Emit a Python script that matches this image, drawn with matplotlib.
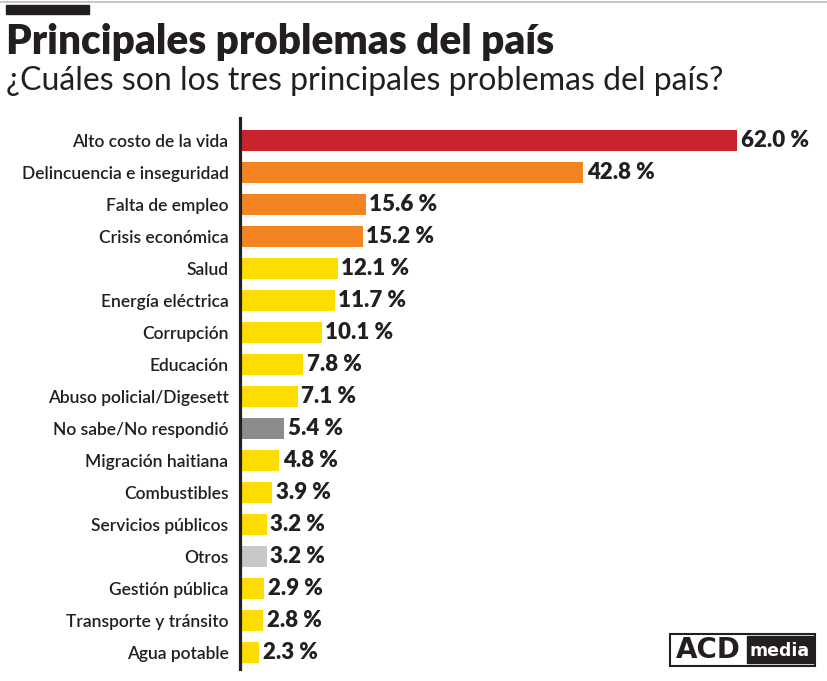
import matplotlib.pyplot as plt
from matplotlib.patches import Rectangle
from matplotlib.lines import Line2D

categories = ["Alto costo de la vida", "Delincuencia e inseguridad", "Falta de empleo",
              "Crisis económica", "Salud", "Energía eléctrica", "Corrupción", "Educación",
              "Abuso policial/Digesett", "No sabe/No respondió", "Migración haitiana",
              "Combustibles", "Servicios públicos", "Otros", "Gestión pública",
              "Transporte y tránsito", "Agua potable"]
values = [62.0, 42.8, 15.6, 15.2, 12.1, 11.7, 10.1, 7.8, 7.1, 5.4, 4.8, 3.9, 3.2, 3.2, 2.9, 2.8, 2.3]
colors = ["#C9232D", "#F48323", "#F48323", "#F48323"] + ["#FFDD00"] * 5 + ["#8C8C8F"] + \
         ["#FFDD00"] * 3 + ["#C8C8C8"] + ["#FFDD00"] * 3

W, H = 828, 681
TXT = "#231F20"
plt.rcParams['font.family'] = ['Lato', 'DejaVu Sans']

fig = plt.figure(figsize=(W / 100, H / 100), dpi=100)

def fx(x):
    return x / W

def fy(y):
    return 1 - y / H

# top rule and black tab
fig.add_artist(Line2D([0, 1], [fy(1.5), fy(1.5)], color="#BBBBBB", lw=1.2, transform=fig.transFigure))
fig.add_artist(Rectangle((fx(6), fy(14)), 83 / W, 9 / H, color=TXT, transform=fig.transFigure))

fig.text(fx(6), fy(42), "Principales problemas del país", fontsize=29.2, fontweight="heavy",
         color=TXT, va="center", ha="left")
fig.text(fx(6), fy(81), "¿Cuáles son los tres principales problemas del país?", fontsize=23,
         color=TXT, va="center", ha="left")

ax = fig.add_axes([fx(241), fy(669), (W - 241) / W, (669 - 118) / H])
ypos = list(range(len(categories)))
ax.barh(ypos, values, height=0.66, color=colors)
ax.set_xlim(0, (W - 241) / 8.0)
ax.set_ylim(16.52, -0.70)
for s in ["top", "right", "bottom"]:
    ax.spines[s].set_visible(False)
ax.spines["left"].set_linewidth(2.3)
ax.spines["left"].set_color(TXT)
ax.spines["left"].set_position(("outward", 1.0))
ax.set_xticks([])
ax.set_yticks(ypos)
ax.set_yticklabels(categories, fontsize=12.5, fontweight="semibold", color=TXT)
ax.tick_params(axis="y", length=0, pad=8)
for y, v in zip(ypos, values):
    ax.text(v + 0.45, y, f"{v:.1f} %", va="center", ha="left", fontsize=16,
            fontweight="heavy", color=TXT)

# logo
fig.add_artist(Rectangle((fx(670), fy(666)), 145 / W, 32 / H, facecolor="white",
                         edgecolor=TXT, lw=1.5, transform=fig.transFigure))
fig.add_artist(Rectangle((fx(747), fy(663)), 66 / W, 27 / H, color=TXT, transform=fig.transFigure))
fig.text(fx(676), fy(650), "ACD", fontsize=20, fontweight="black", color=TXT,
         family="DejaVu Sans", va="center", ha="left")
fig.text(fx(780), fy(651), "media", fontsize=12.5, fontweight="bold", color="white",
         family="DejaVu Sans", va="center", ha="center")

fig.savefig("out.png", dpi=100)
